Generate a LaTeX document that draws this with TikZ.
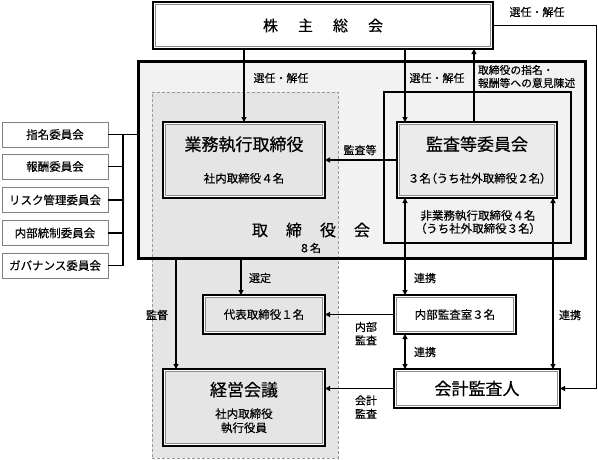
\documentclass[tikz,border=0pt]{standalone}
\usepackage{fontspec}
\setmainfont{Noto Sans CJK JP}[UprightFeatures={FakeBold=0.35}]
\usetikzlibrary{arrows.meta,calc}
\begin{document}
\begin{tikzpicture}[x=1pt,y=-1pt,
  every node/.style={inner sep=0pt, outer sep=0pt, align=center},
  con/.style={line width=1.1pt, draw=black},
  arr/.style={con, -{Triangle[length=5pt,width=5pt]}},
  darr/.style={con, {Triangle[length=5pt,width=5pt]}-{Triangle[length=5pt,width=5pt]}},
  lab/.style={font=\fontsize{11}{13.5}\selectfont},
  dbox/.style={draw=black, line width=1.6pt, fill=#1, font=\fontsize{11.5}{14}\selectfont,
    path picture={
      \draw[draw=white, line width=4.4pt] (path picture bounding box.north west) rectangle (path picture bounding box.south east);
      \draw[draw=black!45, line width=0.7pt] ([shift={(2.6pt,-2.6pt)}]path picture bounding box.north west) rectangle ([shift={(-2.6pt,2.6pt)}]path picture bounding box.south east);
    }},
  cbox/.style={draw=black!50, line width=0.8pt, fill=white, minimum width=106pt, minimum height=25pt, font=\fontsize{11.5}{14}\selectfont},
]
\useasboundingbox (0,0) rectangle (598,459);

% board background
\node[fill=black!5, minimum width=446.5pt, minimum height=196.5pt] (board) at (361.75,159.75) {};
% executive (dashed) region
\node[draw=black!40, dash pattern=on 3pt off 2pt, line width=0.7pt, fill=black!10, minimum width=186pt, minimum height=366pt] (exec) at (245,275) {};
% board border
\draw[line width=3pt] (board.north west) rectangle (board.south east);
% audit region
\node[draw=black, line width=1.5pt, fill=black!5, minimum width=187pt, minimum height=151pt] (audreg) at (477.5,167.5) {};

% shareholders meeting
\node[dbox=white, minimum width=340pt, minimum height=47pt, font=\fontsize{15}{18}\selectfont] (sh) at (323,25.5) {株\hspace{20pt}主\hspace{20pt}総\hspace{20pt}会};

% boxes
\node[dbox=black!10, minimum width=162pt, minimum height=76pt] (gyomu) at (244,160)
  {{\fontsize{17}{20}\selectfont 業務執行取締役}\\[18pt]社内取締役４名};
\node[dbox=black!8, minimum width=160pt, minimum height=76pt] (kansa) at (477,160)
  {{\fontsize{17}{20}\selectfont 監査等委員会}\\[18pt]３名{\addfontfeature{RawFeature=+palt}（}うち社外取締役２名{\addfontfeature{RawFeature=+palt}）}};
\node[dbox=black!10, minimum width=122pt, minimum height=39pt] (daihyo) at (264,314.5) {代表取締役１名};
\node[dbox=white, minimum width=122pt, minimum height=39pt] (naibu) at (455,314.5) {内部監査室３名};
\node[dbox=white, minimum width=166pt, minimum height=39pt, font=\fontsize{17}{20}\selectfont] (kaikei) at (477,388.5) {会計監査人};
\node[dbox=black!10, minimum width=162pt, minimum height=77pt] (keiei) at (244,407.5)
  {{\fontsize{17}{20}\selectfont 経営会議}\\[8pt]社内取締役\\執行役員};

% board texts
\node[font=\fontsize{16}{19}\selectfont] (boardT) at (311,230) {取\hspace{18pt}締\hspace{18pt}役\hspace{18pt}会};
\node[lab] (boardN) at (310,248) {８名};
\node[font=\fontsize{11.5}{13}\selectfont] (audT) at (478,222) {非業務執行取締役４名\\{\addfontfeature{RawFeature=+palt}（}うち社外取締役３名{\addfontfeature{RawFeature=+palt}）}};

% committees
\node[cbox] (c1) at (55,134.5) {指名委員会};
\node[cbox] (c2) at (55,166.5) {報酬委員会};
\node[cbox] (c3) at (55,200) {リスク管理委員会};
\node[cbox] (c4) at (55,233) {内部統制委員会};
\node[cbox] (c5) at (55,265.5) {ガバナンス委員会};
\coordinate (v) at (123,0);
\draw[con] (c1.east) -- (c1.east -| board.west);
\draw[con] (v |- c1.east) -- (v |- c5.east);
\foreach \c in {c2,c3,c4,c5} \draw[con] (\c.east) -- (v |- \c.east);

% connectors
\coordinate (k1) at ($(kansa.north west)+(8,0)$);
\coordinate (k2) at ($(kansa.north)+(-3,0)$);
\coordinate (k3) at ($(kansa.south west)+(8,0)$);
\coordinate (k4) at ($(kansa.south east)+(-4,0)$);
\coordinate (b1) at (176,0);
\coordinate (b2) at (241,0);
\coordinate (rc) at (596.5,0);

\draw[arr] (gyomu.north |- sh.south) -- (gyomu.north);
\draw[arr] (sh.south -| k1) -- (k1);
\draw[arr] (k2) -- (k2 |- sh.south);
\draw[arr] (kansa.west) -- (gyomu.east);
\draw[darr] (k3) -- (k3 |- naibu.north);
\draw[darr] (k3 |- naibu.south) -- (k3 |- kaikei.north);
\draw[darr] (k4) -- (k4 |- kaikei.north);
\draw[arr] (naibu.west) -- (daihyo.east);
\draw[arr] (kaikei.west) -- (kaikei.west -| keiei.east);
\draw[arr] (sh.east) -- (sh.east -| rc) |- (kaikei.east);
\draw[arr] (b1 |- board.south) -- (b1 |- keiei.north);
\draw[arr] (b2 |- board.south) -- (b2 |- daihyo.north);

% labels
\node[lab] (l1) at (281,78) {選任・解任};
\node[lab] (l2) at (437,78) {選任・解任};
\node[font=\fontsize{10.8}{13}\selectfont, align=left, anchor=west] (l3) at (478,76.5) {取締役の指名・\\報酬等への意見陳述};
\node[lab] (l4) at (537,12) {選任・解任};
\node[lab] (l5) at (360,150) {監査等};
\node[lab] (l6) at (260,278) {選定};
\node[lab] (l7) at (157,315) {監督};
\node[lab] (l8) at (425,278) {連携};
\node[lab] (l9) at (425,352) {連携};
\node[lab] (l10) at (570,315) {連携};
\node[lab] (l11) at (366,333.5) {内部\\監査};
\node[lab] (l12) at (366,407) {会計\\監査};
\end{tikzpicture}
\end{document}
